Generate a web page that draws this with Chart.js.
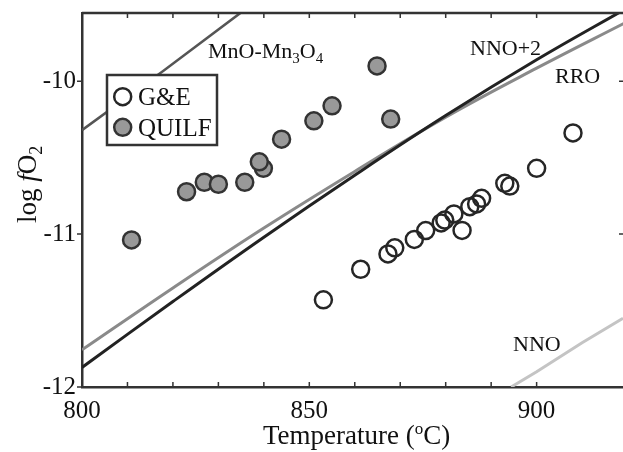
<!DOCTYPE html>
<html>
<head>
<meta charset="utf-8">
<script src="https://cdn.jsdelivr.net/npm/chart.js@4/dist/chart.umd.min.js"></script>
<style>
  body { margin: 0; background: #fff; overflow: hidden; }
</style>
</head>
<body>
<canvas id="chart" width="623" height="452"></canvas>
<script>
// G&E temperatures / log fO2
var geT = [853.1, 861.3, 867.3, 868.8, 873.1, 875.6, 879.0, 879.8, 881.8, 883.6, 885.3, 886.8, 887.9, 893.0, 894.1, 900.0, 908.0];
var geF = [-11.43, -11.23, -11.13, -11.09, -11.035, -10.977, -10.927, -10.908, -10.868, -10.976, -10.821, -10.803, -10.766, -10.668, -10.686, -10.57, -10.338];

// QUILF temperatures / log fO2
var quT = [810.9, 823.0, 826.9, 830.0, 835.8, 839.9, 839.0, 843.9, 851.0, 855.0, 864.9, 867.9];
var quF = [-11.038, -10.723, -10.661, -10.674, -10.661, -10.57, -10.527, -10.379, -10.259, -10.161, -9.9, -10.248];

// buffer curves
var bufT = [800, 820, 840, 860, 880, 900, 920];
var nno2 = [-11.872, -11.441, -11.02, -10.615, -10.225, -9.86, -9.52];
var rro = [-11.757, -11.352, -10.96, -10.59, -10.235, -9.915, -9.61];
var mnoT = [800, 818, 835];
var mno = [-10.32, -9.93, -9.55];
var nnoT = [894.4, 900, 910, 919];
var nno = [-12, -11.9, -11.71, -11.55];

var xTicksMajor = [800, 850, 900];
var yTicks = [-12, -11, -10];

var serif = '"Liberation Serif", "Times New Roman", serif';

function pts(xs, ys) {
  var out = [];
  for (var i = 0; i < xs.length; i++) out.push({x: xs[i], y: ys[i]});
  return out;
}

// draws a run of text pieces, each {t, size, dy, italic}
function rich(ctx, parts, x, y) {
  for (var i = 0; i < parts.length; i++) {
    var p = parts[i];
    ctx.font = (p.italic ? 'italic ' : '') + p.size + 'px ' + serif;
    ctx.fillText(p.t, x, y + (p.dy || 0));
    x += ctx.measureText(p.t).width;
  }
}

var decor = {
  id: 'decor',
  afterDraw: function (chart) {
    var ctx = chart.ctx, a = chart.chartArea;
    var xs = chart.scales.x, ys = chart.scales.y;
    ctx.save();
    ctx.strokeStyle = '#333';
    ctx.lineWidth = 2.5;
    // top spine
    ctx.beginPath();
    ctx.moveTo(a.left, a.top);
    ctx.lineTo(a.right, a.top);
    ctx.stroke();
    // x ticks, inward, bottom and top
    ctx.lineWidth = 1.5;
    xs.ticks.forEach(function (t) {
      if (t.value % 10 !== 0) return;
      var px = xs.getPixelForValue(t.value);
      ctx.beginPath();
      ctx.moveTo(px, a.bottom); ctx.lineTo(px, a.bottom - 5);
      ctx.moveTo(px, a.top); ctx.lineTo(px, a.top + 5);
      ctx.stroke();
    });
    // y ticks
    yTicks.forEach(function (v) {
      var py = ys.getPixelForValue(v);
      ctx.beginPath();
      ctx.moveTo(a.left - 5, py); ctx.lineTo(a.left, py);
      ctx.moveTo(a.right, py); ctx.lineTo(a.right - 4, py);
      ctx.stroke();
    });

    ctx.fillStyle = '#111';
    ctx.textBaseline = 'alphabetic';
    ctx.textAlign = 'left';
    // curve labels
    rich(ctx, [{t: 'MnO-Mn', size: 22}, {t: '3', size: 15, dy: 5}, {t: 'O', size: 22}, {t: '4', size: 15, dy: 5}], 208, 58);
    rich(ctx, [{t: 'NNO+2', size: 22}], 470, 55);
    rich(ctx, [{t: 'RRO', size: 22}], 555, 83);
    rich(ctx, [{t: 'NNO', size: 22}], 513, 351);

    // axis titles
    rich(ctx, [{t: 'Temperature (', size: 27}, {t: 'o', size: 17, dy: -10}, {t: 'C)', size: 27}], 263, 444);
    ctx.save();
    ctx.translate(36, 223);
    ctx.rotate(-Math.PI / 2);
    rich(ctx, [{t: 'log ', size: 27}, {t: 'f', size: 27, italic: true}, {t: 'O', size: 27}, {t: '2', size: 18, dy: 6}], 0, 0);
    ctx.restore();

    // legend
    ctx.fillStyle = '#fff';
    ctx.fillRect(107, 75, 110, 70);
    ctx.strokeStyle = '#333';
    ctx.lineWidth = 2.5;
    ctx.strokeRect(107, 75, 110, 70);
    var ds = chart.data.datasets;
    [0, 1].forEach(function (i, k) {
      var cy = 96.7 + k * 30.6;
      ctx.beginPath();
      ctx.arc(122.7, cy, 8.5, 0, Math.PI * 2);
      ctx.fillStyle = ds[i].backgroundColor;
      ctx.fill();
      ctx.lineWidth = ds[i].borderWidth;
      ctx.strokeStyle = ds[i].borderColor;
      ctx.stroke();
      ctx.fillStyle = '#111';
      rich(ctx, [{t: ds[i].label, size: 25}], 138, cy + 8.5);
    });
    ctx.restore();
  }
};

new Chart(document.getElementById('chart'), {
  type: 'scatter',
  data: {
    datasets: [
      {
        label: 'G&E',
        data: pts(geT, geF),
        backgroundColor: 'rgba(255,255,255,0)',
        borderColor: '#262626',
        borderWidth: 2.5,
        pointRadius: 8.5
      },
      {
        label: 'QUILF',
        data: pts(quT, quF),
        backgroundColor: '#999999',
        borderColor: '#333333',
        borderWidth: 2.5,
        pointRadius: 8.5
      },
      {
        label: 'NNO+2',
        data: pts(bufT, nno2),
        showLine: true,
        borderColor: '#222222',
        borderWidth: 3,
        pointRadius: 0,
        tension: 0.4
      },
      {
        label: 'RRO',
        data: pts(bufT, rro),
        showLine: true,
        borderColor: '#8a8a8a',
        borderWidth: 3,
        pointRadius: 0,
        tension: 0.4
      },
      {
        label: 'MnO-Mn3O4',
        data: pts(mnoT, mno),
        showLine: true,
        borderColor: '#555555',
        borderWidth: 2.5,
        pointRadius: 0
      },
      {
        label: 'NNO',
        data: pts(nnoT, nno),
        showLine: true,
        borderColor: '#c4c4c4',
        borderWidth: 3,
        pointRadius: 0
      }
    ]
  },
  options: {
    responsive: false,
    animation: false,
    layout: { autoPadding: false, padding: { top: 13, right: 0, left: 0, bottom: 0 } },
    plugins: { legend: { display: false }, tooltip: { enabled: false } },
    scales: {
      x: {
        type: 'linear',
        min: 800,
        max: 919,
        afterFit: function (s) { s.height = 65; s.paddingLeft = 0; s.paddingRight = 0; },
        border: { color: '#333', width: 2.5 },
        grid: { display: false, drawTicks: false },
        ticks: {
          stepSize: 10,
          padding: 9,
          maxRotation: 0,
          autoSkip: false,
          color: '#111',
          font: { family: serif, size: 25 },
          callback: function (v) { return xTicksMajor.indexOf(v) >= 0 ? String(v) : ''; }
        }
      },
      y: {
        min: -12,
        max: -9.554,
        afterFit: function (s) { s.width = 82; s.paddingTop = 0; s.paddingBottom = 0; },
        border: { color: '#333', width: 2.5 },
        grid: { display: false, drawTicks: false },
        ticks: {
          stepSize: 1,
          padding: 6,
          color: '#111',
          font: { family: serif, size: 25 },
          callback: function (v) { return yTicks.indexOf(v) >= 0 ? String(v) : ''; }
        }
      }
    }
  },
  plugins: [decor]
});
</script>
</body>
</html>
